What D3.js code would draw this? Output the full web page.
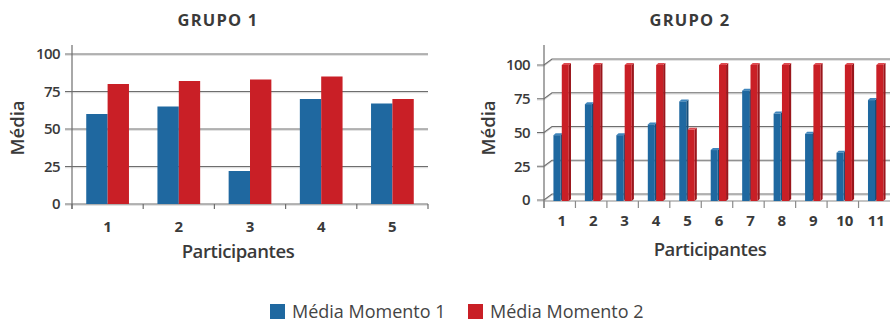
<!DOCTYPE html>
<html>
<head>
<meta charset="utf-8">
<script src="https://cdn.jsdelivr.net/npm/d3@7"></script>
<style>
  html, body { margin: 0; padding: 0; background: #fff; }
  svg text { font-family: "Open Sans", "Noto Sans", sans-serif; fill: #3a3a3a; }
</style>
</head>
<body>
<svg id="chart" width="890" height="322"></svg>
<script>
// Average scores per participant, two moments, two groups
const seriesNames = ["Média Momento 1", "Média Momento 2"];
const seriesColors = ["#1f68a0", "#c91f26"];

const group1Participants = ["1", "2", "3", "4", "5"];
const group1Moment1 = [60, 65, 22, 70, 67];
const group1Moment2 = [80, 82, 83, 85, 70];

const group2Participants = ["1", "2", "3", "4", "5", "6", "7", "8", "9", "10", "11"];
const group2Moment1 = [48, 71, 48, 56, 73, 37, 81, 64, 49, 35, 74];
const group2Moment2 = [100, 100, 100, 100, 52, 100, 100, 100, 100, 100, 100];

const yTicks = [0, 25, 50, 75, 100];

const svg = d3.select("#chart");

function gridLine(g, x1, x2, y) {
  g.append("line").attr("x1", x1).attr("x2", x2).attr("y1", y + 1.2).attr("y2", y + 1.2)
    .attr("stroke", "#d6d6d6").attr("stroke-width", 1);
  g.append("line").attr("x1", x1).attr("x2", x2).attr("y1", y).attr("y2", y)
    .attr("stroke", "#6e6e6e").attr("stroke-width", 1.2);
}

// ---------- GRUPO 1 : flat clustered bars ----------
(function () {
  const g = svg.append("g");
  const x = d3.scaleBand().domain(group1Participants).range([72, 428]);
  const xs = d3.scaleBand().domain([0, 1]).range([x.bandwidth() * 0.2, x.bandwidth() * 0.8]);
  const y = d3.scaleLinear().domain([0, 100]).range([204, 54]);

  g.append("text").attr("x", 218).attr("y", 26).attr("text-anchor", "middle")
    .style("font-size", "16.5px").style("font-weight", 700).style("letter-spacing", "1.2px")
    .text("GRUPO 1");

  yTicks.forEach(t => {
    gridLine(g, 65, 428, y(t));
    g.append("text").attr("x", 60).attr("y", y(t)).attr("dy", "0.35em")
      .attr("text-anchor", "end").style("font-size", "15px").style("font-weight", 600)
      .style("letter-spacing", "-0.6px").text(t);
  });

  // y axis line
  g.append("line").attr("x1", 72).attr("x2", 72).attr("y1", 45).attr("y2", 209)
    .attr("stroke", "#6e6e6e").attr("stroke-width", 1.2);

  // category separators
  const bounds = group1Participants.map(d => x(d)).concat([x.range()[1]]);
  bounds.forEach(b => {
    g.append("line").attr("x1", b).attr("x2", b).attr("y1", y(0)).attr("y2", y(0) + 5)
      .attr("stroke", "#6e6e6e").attr("stroke-width", 1.2);
  });

  const rows = group1Participants.map((p, i) => ({ p, v: [group1Moment1[i], group1Moment2[i]] }));
  rows.forEach(r => {
    r.v.forEach((v, s) => {
      g.append("rect")
        .attr("x", x(r.p) + xs(s)).attr("width", xs.bandwidth())
        .attr("y", y(v)).attr("height", y(0) - y(v))
        .attr("fill", seriesColors[s]);
    });
    g.append("text").attr("x", x(r.p) + x.bandwidth() / 2).attr("y", 232)
      .attr("text-anchor", "middle").style("font-size", "15px").style("font-weight", 700)
      .text(r.p);
  });

  g.append("text").attr("x", 238).attr("y", 258).attr("text-anchor", "middle")
    .style("font-size", "18.5px").style("font-weight", 600).style("letter-spacing", "-0.4px")
    .text("Participantes");

  g.append("text").attr("transform", "translate(24,128) rotate(-90)")
    .attr("text-anchor", "middle").style("font-size", "18.5px").style("font-weight", 600)
    .text("Média");
})();

// ---------- GRUPO 2 : pseudo-3D clustered bars ----------
(function () {
  const g = svg.append("g");
  const depthX = 8, depthY = -6;
  const x = d3.scaleBand().domain(group2Participants).range([544, 890]);
  const bw = x.bandwidth();
  const xs = d3.scaleBand().domain([0, 1]).range([bw * 0.3, bw * 0.83]);
  const y = d3.scaleLinear().domain([0, 100]).range([200, 65]);

  g.append("text").attr("x", 690).attr("y", 26).attr("text-anchor", "middle")
    .style("font-size", "16.5px").style("font-weight", 700).style("letter-spacing", "1.2px")
    .text("GRUPO 2");

  yTicks.forEach(t => {
    const yf = y(t), yb = y(t) + depthY;
    // shadow
    g.append("path")
      .attr("d", `M537,${yf + 1.2}L544,${yf + 1.2}L${544 + depthX},${yb + 1.2}L890,${yb + 1.2}`)
      .attr("fill", "none").attr("stroke", "#d6d6d6").attr("stroke-width", 1);
    g.append("path")
      .attr("d", `M537,${yf}L544,${yf}L${544 + depthX},${yb}L890,${yb}`)
      .attr("fill", "none").attr("stroke", "#6e6e6e").attr("stroke-width", 1.2);
    g.append("text").attr("x", 530).attr("y", yf).attr("dy", "0.35em")
      .attr("text-anchor", "end").style("font-size", "15px").style("font-weight", 600)
      .style("letter-spacing", "-0.6px").text(t);
  });

  // y axis and front floor edge
  g.append("line").attr("x1", 544).attr("x2", 544).attr("y1", 45).attr("y2", 208)
    .attr("stroke", "#6e6e6e").attr("stroke-width", 1.2);
  g.append("line").attr("x1", 544).attr("x2", 890).attr("y1", y(0) + 1).attr("y2", y(0) + 1)
    .attr("stroke", "#8a8a8a").attr("stroke-width", 1.2);

  const bounds = group2Participants.map(d => x(d));
  bounds.forEach(b => {
    g.append("line").attr("x1", b).attr("x2", b).attr("y1", y(0) + 1).attr("y2", y(0) + 8)
      .attr("stroke", "#8a8a8a").attr("stroke-width", 1.2);
  });

  const sideColors = ["#164e79", "#9a161c"];
  const topColors = ["#3f86bd", "#de4a50"];
  const sd = 2.2, td = 2;

  const rows = group2Participants.map((p, i) => ({ p, v: [group2Moment1[i], group2Moment2[i]] }));
  rows.forEach(r => {
    r.v.forEach((v, s) => {
      const x0 = x(r.p) + xs(s);
      const w = xs.bandwidth() - sd * 0.6;
      const yt = y(v), yb = y(0) + 1;
      // right side face
      g.append("path")
        .attr("d", `M${x0 + w},${yt}L${x0 + w + sd},${yt - td}L${x0 + w + sd},${yb - td}L${x0 + w},${yb}Z`)
        .attr("fill", sideColors[s]);
      // top face
      g.append("path")
        .attr("d", `M${x0},${yt}L${x0 + sd},${yt - td}L${x0 + w + sd},${yt - td}L${x0 + w},${yt}Z`)
        .attr("fill", topColors[s]);
      // front face
      g.append("rect").attr("x", x0).attr("width", w)
        .attr("y", yt).attr("height", yb - yt)
        .attr("fill", seriesColors[s]);
    });
    g.append("text").attr("x", x(r.p) + bw / 2 + 2).attr("y", 226)
      .attr("text-anchor", "middle").style("font-size", "15px").style("font-weight", 700)
      .text(r.p);
  });

  g.append("text").attr("x", 710).attr("y", 256).attr("text-anchor", "middle")
    .style("font-size", "18.5px").style("font-weight", 600).style("letter-spacing", "-0.4px")
    .text("Participantes");

  g.append("text").attr("transform", "translate(495,128) rotate(-90)")
    .attr("text-anchor", "middle").style("font-size", "18.5px").style("font-weight", 600)
    .text("Média");
})();

// ---------- legend ----------
(function () {
  const g = svg.append("g");
  const starts = [270, 468];
  seriesNames.forEach((name, i) => {
    g.append("rect").attr("x", starts[i]).attr("y", 304).attr("width", 15).attr("height", 15)
      .attr("fill", seriesColors[i]);
    g.append("text").attr("x", starts[i] + 22).attr("y", 318)
      .style("font-size", "18px").style("font-weight", 400).style("fill", "#444")
      .text(name);
  });
})();
</script>
</body>
</html>
